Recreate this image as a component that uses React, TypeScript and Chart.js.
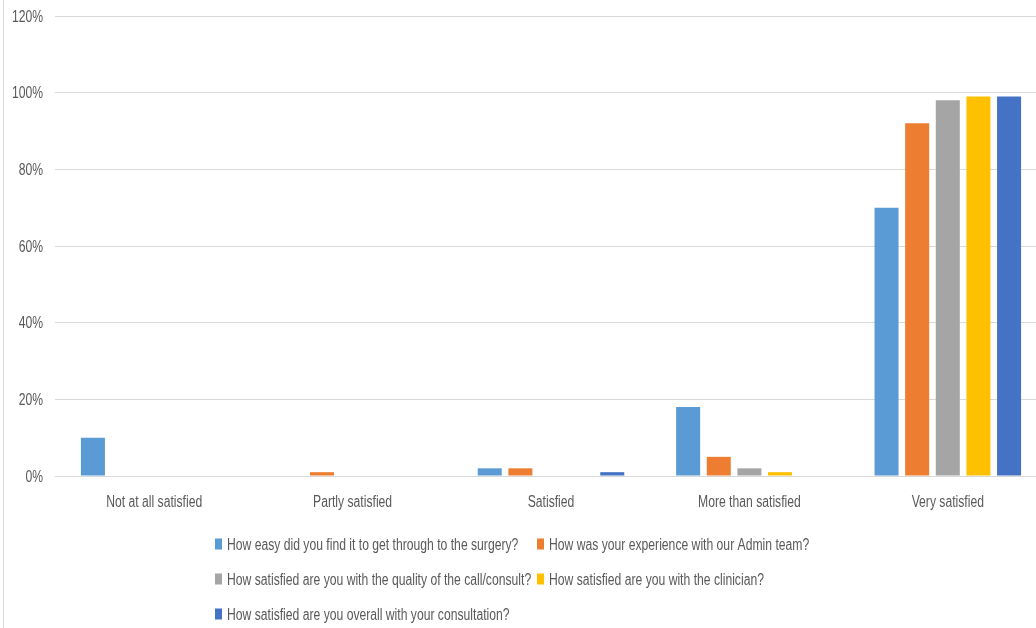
import React, { useEffect, useRef } from "react";
import { Chart, registerables } from "chart.js";

Chart.register(...registerables);

const categories = [
  "Not at all satisfied",
  "Partly satisfied",
  "Satisfied",
  "More than satisfied",
  "Very satisfied",
];

const seriesNames = [
  "How easy did you find it to get through to the surgery?",
  "How was your experience with our Admin team?",
  "How satisfied are you with the quality of the call/consult?",
  "How satisfied are you with the clinician?",
  "How satisfied are you overall with your consultation?",
];

const easyToGetThrough = [10, 0, 2, 18, 70];
const adminTeam = [0, 1, 2, 5, 92];
const callQuality = [0, 0, 0, 2, 98];
const clinician = [0, 0, 0, 1, 99];
const overall = [0, 0, 1, 0, 99];

const seriesValues = [easyToGetThrough, adminTeam, callQuality, clinician, overall];
const seriesColors = ["#5B9BD5", "#ED7D31", "#A5A5A5", "#FFC000", "#4472C4"];

const yTicks = [0, 20, 40, 60, 80, 100, 120];

const FONT = "16px 'Liberation Sans', Arial, sans-serif";
const SQUEEZE = 0.76; // horizontal squeeze applied to all chart text
const TEXT = "#595959";
const GRID = "#D9D9D9";

// legend slots: [left, centerY]
const legendSlots: [number, number][] = [
  [215, 544],
  [537, 544],
  [215, 579],
  [537, 579],
  [215, 614],
];

function drawNarrowText(
  ctx: CanvasRenderingContext2D,
  text: string,
  x: number,
  y: number,
  align: CanvasTextAlign
) {
  ctx.save();
  ctx.translate(x, y);
  ctx.scale(SQUEEZE, 1);
  ctx.textAlign = align;
  ctx.textBaseline = "alphabetic";
  ctx.fillText(text, 0, 0);
  ctx.restore();
}

// Draws axis labels and the legend in a condensed face.
const narrowTextPlugin = {
  id: "narrowText",
  afterDraw(chart: any) {
    const ctx: CanvasRenderingContext2D = chart.ctx;
    const xs = chart.scales.x;
    const ys = chart.scales.y;
    ctx.save();
    ctx.font = FONT;
    ctx.fillStyle = TEXT;
    yTicks.forEach((v) => {
      drawNarrowText(ctx, `${v}%`, ys.right - 12, ys.getPixelForValue(v) + 5.5, "right");
    });
    categories.forEach((c, i) => {
      drawNarrowText(ctx, c, xs.getPixelForValue(i), xs.top + 31, "center");
    });
    seriesNames.forEach((name, i) => {
      const [left, cy] = legendSlots[i];
      ctx.fillStyle = seriesColors[i];
      ctx.fillRect(left, cy - 5.5, 7, 11);
      ctx.fillStyle = TEXT;
      drawNarrowText(ctx, name, left + 12, cy + 5.7, "left");
    });
    ctx.restore();
  },
};

export default function App() {
  const canvasRef = useRef<HTMLCanvasElement | null>(null);

  useEffect(() => {
    if (!canvasRef.current) return;
    const chart = new Chart(canvasRef.current, {
      type: "bar",
      data: {
        labels: categories,
        datasets: seriesValues.map((vals, i) => ({
          label: seriesNames[i],
          data: vals,
          backgroundColor: seriesColors[i],
          borderWidth: 0,
          categoryPercentage: 0.772,
          barPercentage: 0.784,
        })),
      },
      options: {
        animation: false,
        responsive: true,
        maintainAspectRatio: false,
        layout: { padding: { top: 16, right: 0, left: 0, bottom: 0 } },
        plugins: {
          legend: { display: false },
          tooltip: { enabled: false },
        },
        scales: {
          x: {
            grid: { display: false, drawTicks: false },
            border: { display: true, color: GRID, width: 1 },
            ticks: { display: false },
            afterFit: (scale: any) => {
              scale.height = 152;
            },
          },
          y: {
            min: 0,
            max: 120,
            afterBuildTicks: (scale: any) => {
              scale.ticks = yTicks.map((v) => ({ value: v }));
            },
            grid: { color: GRID, lineWidth: 1, drawTicks: false },
            border: { display: false },
            ticks: { display: false },
            afterFit: (scale: any) => {
              scale.width = 55;
            },
          },
        },
      },
      plugins: [narrowTextPlugin],
    });
    return () => chart.destroy();
  }, []);

  return (
    <div
      style={{
        position: "fixed",
        left: 0,
        top: 0,
        width: 1036,
        height: 628,
        overflow: "hidden",
        background: "#fff",
      }}
    >
      <div style={{ position: "absolute", left: 0, top: 0, width: 1047, height: 628 }}>
        <canvas ref={canvasRef} />
      </div>
      <div
        style={{
          position: "absolute",
          left: 3,
          top: 0,
          width: 1,
          height: 628,
          background: GRID,
        }}
      />
    </div>
  );
}
